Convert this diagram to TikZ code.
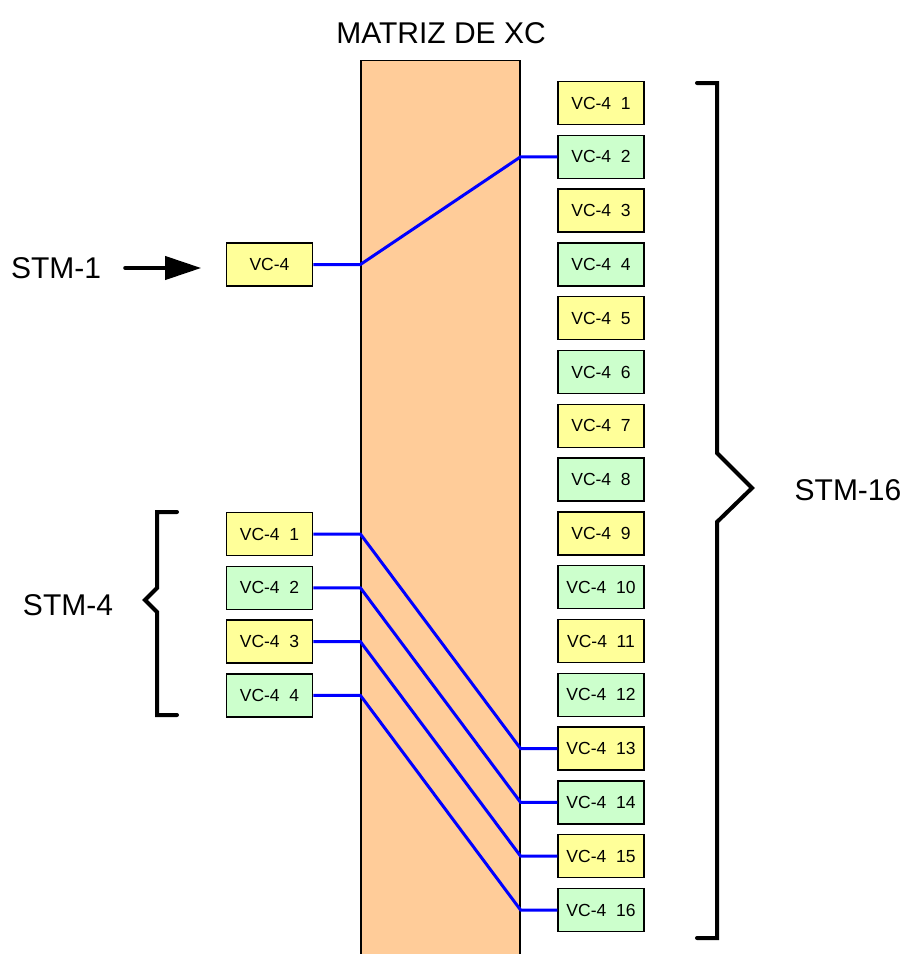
\documentclass[tikz,border=0pt]{standalone}
\usepackage{fontspec}
\setmainfont{Liberation Sans}
\usetikzlibrary{arrows.meta}
\definecolor{xcfill}{RGB}{255,204,153}
\definecolor{vcyellow}{RGB}{255,255,153}
\definecolor{vcgreen}{RGB}{204,255,204}

\begin{document}
\begin{tikzpicture}[x=1pt, y=-1pt,
        vc/.style={draw, rectangle, line width=1.5pt, minimum width=86pt, minimum height=43pt, inner sep=0pt, font=\fontsize{17.5}{20}\selectfont},
        lbl/.style={inner sep=0pt, font=\fontsize{30}{34}\selectfont},
        link/.style={blue, line width=3pt},
        brace/.style={line width=4pt, line cap=round}]

        \useasboundingbox (0,0) rectangle (908,954);

        % Matrix
        \node[draw, rectangle, fill=xcfill, line width=1.2pt, minimum width=159pt, minimum height=900pt, inner sep=0pt, anchor=north] (xc) at (440.5,60) {};
        \node[lbl] (title) at (441,33) {MATRIZ DE XC};

        % STM-16 side
        \foreach \i in {1,...,16} {
            \pgfmathsetmacro\ypos{103+(\i-1)*53.8}
            \ifodd\i \def\col{vcyellow}\else \def\col{vcgreen}\fi
            \node[vc, fill=\col] (r\i) at (601,\ypos) {VC-4\ \ \i};
        }

        % STM-1 and STM-4 side
        \node[vc, fill=vcyellow] (src) at (269.5,264.5) {VC-4};
        \foreach \i in {1,...,4} {
            \pgfmathsetmacro\ypos{534+(\i-1)*53.8}
            \ifodd\i \def\col{vcyellow}\else \def\col{vcgreen}\fi
            \node[vc, fill=\col] (l\i) at (269.5,\ypos) {VC-4\ \ \i};
        }

        % Connections
        \draw[link] (src.east) -- (src.east -| xc.west) -- (r2.west -| xc.east) -- (r2.west);
        \foreach \i/\j in {1/13, 2/14, 3/15, 4/16}
            \draw[link] (l\i.east) -- (l\i.east -| xc.west) -- (r\j.west -| xc.east) -- (r\j.west);

        % Labels and brackets
        \node[lbl] (stm1) at (56,268) {STM-1};
        \draw[line width=4pt, line cap=round, -{Triangle[length=36pt, width=23pt]}] ([xshift=24pt]stm1.east) -- +(76pt,0);

        \node[lbl] (stm4) at (68,605) {STM-4};
        \draw[brace] (177,512) -- (157,512) -- (157,588) -- (145,600) -- (157,612) -- (157,715) -- (177,715);

        \node[lbl] (stm16) at (848,490) {STM-16};
        \draw[brace] (697,83) -- (717,83) -- (717,453) -- (752,488) -- (717,522) -- (717,938) -- (697,938);
    \end{tikzpicture}
\end{document}
